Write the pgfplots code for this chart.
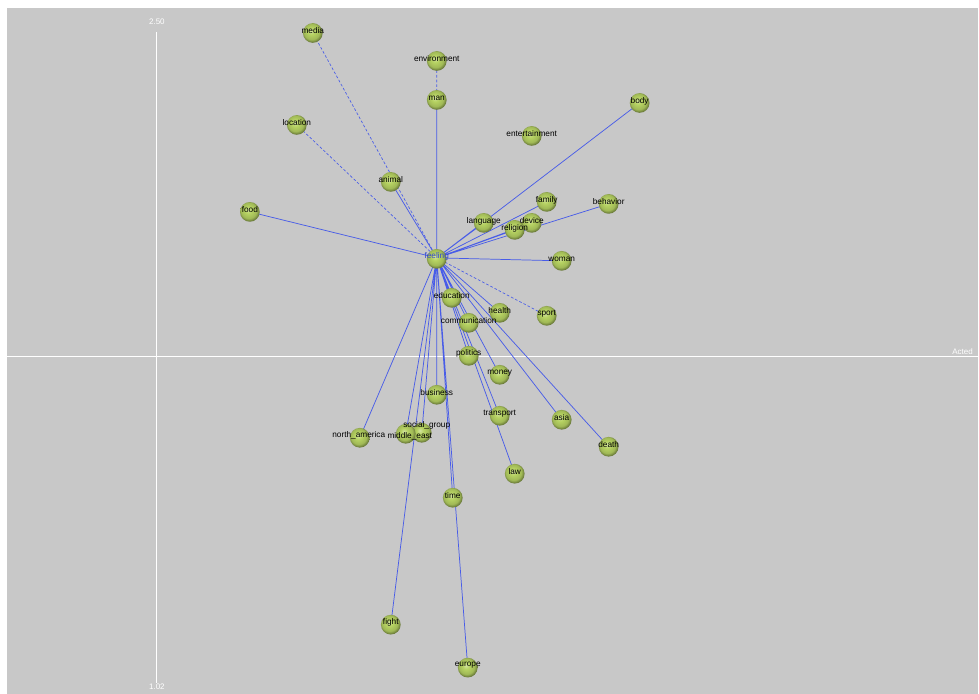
\documentclass[border=0pt]{standalone}
\usepackage{pgfplots}
\pgfplotsset{compat=1.18}
\usepackage{pgfplotstable}
\usepackage{fontspec}
\setmainfont{Liberation Sans}
\definecolor{bggrey}{RGB}{200,200,200}
\definecolor{edgeblue}{RGB}{72,92,232}
\definecolor{nodegreen}{RGB}{182,210,98}
\definecolor{labelblue}{RGB}{50,70,210}

\pgfdeclareradialshading{greenball}{\pgfpoint{-5bp}{6bp}}{%
  color(0bp)=(white!40!nodegreen);
  color(9bp)=(nodegreen);
  color(20bp)=(nodegreen!88!black);
  color(27bp)=(nodegreen!55!black);
  color(50bp)=(nodegreen!55!black)}
\pgfdeclareplotmark{gball}{%
  \pgfpathcircle{\pgfpointorigin}{\pgfplotmarksize}%
  \pgfshadepath{greenball}{0}%
  \pgfusepath{discard}}

% node positions (x, y) with y measured upward; lx, ly = label position
\pgfplotstableread{
x y lx ly label
313 661 313 663 media
297 569 297 571 location
250 482 250 484 food
437 633 437 635 environment
437 594 437 596 man
532 558 532 560 entertainment
640 591 640 593 body
391 512 391 514 animal
547 492 547 494 family
609 490 609 492 behavior
484 471 484 473 language
532 471 532 473 device
515 464 515 466 religion
562 433 562 435 woman
452 396 452 398 education
500 381 500 383 health
547 378 547 380 sport
469 371 469 373 communication
469 338 469 340 politics
500 319 500 321 money
437 299 437 301 business
500 278 500 280 transport
562 274 562 276 asia
360 256 359 258 north\_america
422 261 427 268 social\_group
406 260 410 257 middle\_east
609 247 609 249 death
515 220 515 222 law
453 196 453 198 time
391 69 391 71 fight
468 26 468 28 europe
}\nodes

\pgfplotstableread{
x y lx ly label
437 435 437 437 feeling
}\centernode

\begin{document}
\begin{tikzpicture}
\path (0,0) rectangle (734.25pt,520.5pt);
\begin{axis}[
  at={(5.25pt,0pt)}, anchor=south west,
  scale only axis, width=729pt, height=514.5pt,
  xmin=7, xmax=979, ymin=0, ymax=686,
  axis line style={draw=none}, ticks=none,
  axis background/.style={fill=bggrey},
  clip=false,
]
% white axes
\addplot[white, line width=0.8pt] coordinates {(157,11) (157,662)};
\addplot[white, line width=0.8pt] coordinates {(7,337) (979,337)};
\node[white, font=\fontsize{6}{7}\selectfont] at (axis cs:157,672) {2.50};
\node[white, font=\fontsize{6}{7}\selectfont] at (axis cs:157,7) {1.02};
\node[white, font=\fontsize{6}{7}\selectfont, anchor=east] at (axis cs:978,342) {Acted};

% dashed edges
\addplot[edgeblue, line width=0.5pt, dash pattern=on 2pt off 1.5pt, unbounded coords=jump] coordinates {
(437,436) (313,661) (nan,nan)
(437,436) (297,569) (nan,nan)
(437,436) (547,378) (nan,nan)
(437,633) (437,594)
};
% solid edges
\addplot[edgeblue, line width=0.55pt, unbounded coords=jump] coordinates {
(437,436) (250,482) (nan,nan)
(437,436) (437,594) (nan,nan)
(437,436) (640,591) (nan,nan)
(437,436) (391,512) (nan,nan)
(437,436) (547,492) (nan,nan)
(437,436) (609,490) (nan,nan)
(437,436) (484,471) (nan,nan)
(437,436) (532,471) (nan,nan)
(437,436) (515,464) (nan,nan)
(437,436) (562,433) (nan,nan)
(437,436) (452,396) (nan,nan)
(437,436) (500,381) (nan,nan)
(437,436) (469,371) (nan,nan)
(437,436) (469,338) (nan,nan)
(437,436) (500,319) (nan,nan)
(437,436) (437,299) (nan,nan)
(437,436) (500,278) (nan,nan)
(437,436) (562,274) (nan,nan)
(437,436) (360,256) (nan,nan)
(437,436) (406,260) (nan,nan)
(437,436) (422,261) (nan,nan)
(437,436) (609,247) (nan,nan)
(437,436) (515,220) (nan,nan)
(437,436) (453,196) (nan,nan)
(437,436) (391,69) (nan,nan)
(437,436) (468,26)
};

% spheres
\addplot[only marks, mark=gball, mark size=7.4pt] table[x=x, y=y] {\nodes};
\addplot[only marks, mark=gball, mark size=7.4pt] table[x=x, y=y] {\centernode};

% labels
\addplot[only marks, mark=none, nodes near coords, point meta=explicit symbolic,
  nodes near coords style={anchor=center, text=black, font=\fontsize{6.2}{7}\selectfont, inner sep=0pt}]
  table[x=lx, y=ly, meta=label] {\nodes};
\addplot[only marks, mark=none, nodes near coords, point meta=explicit symbolic,
  nodes near coords style={anchor=center, text=labelblue, font=\fontsize{6.2}{7}\selectfont, inner sep=0pt}]
  table[x=lx, y=ly, meta=label] {\centernode};
\end{axis}
\end{tikzpicture}
\end{document}
